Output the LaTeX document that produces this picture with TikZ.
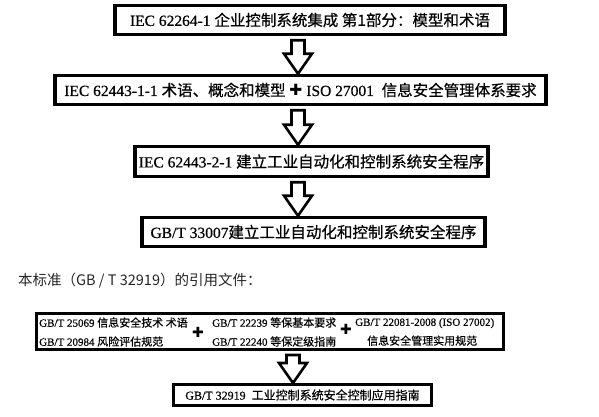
\documentclass[tikz,border=0pt]{standalone}
\usepackage{fontspec}
\setmainfont{Liberation Serif}[FakeBold=0.5]
\newfontfamily\cjk{Noto Sans CJK SC}[FakeBold=0.5]
\newfontfamily\plaincjk{Noto Sans CJK SC}
\newfontfamily\sym{DejaVu Sans}
\usetikzlibrary{calc}
\tikzset{
   stdbox/.style={draw,line width=3.5pt,inner sep=0pt,align=center,font=\fontsize{15.5}{17}\selectfont},
   blockarr/.style={draw,line width=2.6pt,line join=miter,fill=white},
   colt/.style={anchor=west,align=left,inner sep=0pt,font=\fontsize{11}{19}\selectfont},
}
\newcommand\zh[1]{{\cjk #1}}
\newcommand\plus{{\sym\bfseries ✚}}
% flecha hueca: x, de, a
\newcommand\hollowarrow[3]{%
   \draw[blockarr] let \p1=(#1,0 |- #2.south), \p2=(#1,0 |- #3.north) in
      (\x1-6.5pt,\y1-4pt) -- (\x1+6.5pt,\y1-4pt) -- (\x1+6.5pt,\y2+20pt) -- (\x1+14pt,\y2+20pt)
      -- (\x2,\y2) -- (\x1-14pt,\y2+20pt) -- (\x1-6.5pt,\y2+20pt) -- cycle;}
\begin{document}
\begin{tikzpicture}[x=1pt,y=-1pt]
   \useasboundingbox (0,0) rectangle (599,417);
   %cajas
   \node[stdbox,minimum width=390pt,minimum height=29pt] (iec1) at (310,20)
      {IEC 62264-1 \zh{企业控制系统集成 第1部分：模型和术语}};
   \node[stdbox,minimum width=491pt,minimum height=29pt] (iec2) at (300.5,90)
      {IEC 62443-1-1 \zh{术语、概念和模型} \plus\ ISO 27001\ \ \zh{信息安全管理体系要求}};
   \node[stdbox,minimum width=353pt,minimum height=30pt] (iec3) at (311.5,161.5)
      {IEC 62443-2-1 \zh{建立工业自动化和控制系统安全程序}};
   \node[stdbox,minimum width=343pt,minimum height=29pt] (gbt) at (313.5,232)
      {GB/T 33007\zh{建立工业自动化和控制系统安全程序}};
   %flechas
   \hollowarrow{298}{iec1}{iec2}
   \hollowarrow{298}{iec2}{iec3}
   \hollowarrow{298}{iec3}{gbt}
   %texto
   \node[anchor=west,inner sep=0pt,text=black!85,font=\plaincjk\fontsize{14.5}{16}\selectfont] (yin) at (18,281)
      {本标准（GB / T 32919）的引用文件：};
   %referencias
   \node[draw,line width=3pt,minimum width=467pt,minimum height=36pt] (cite) at (270,331.5) {};
   \node[colt] (c1) at (39,332) {GB/T 25069 \zh{信息安全技术 术语}\\GB/T 20984 \zh{风险评估规范}};
   \node[inner sep=0pt,font=\fontsize{14}{16}\selectfont] (p1) at (198,332) {\plus};
   \node[colt] (c2) at (212,332) {GB/T 22239 \zh{等保基本要求}\\GB/T 22240 \zh{等保定级指南}};
   \node[inner sep=0pt,font=\fontsize{14}{16}\selectfont] (p2) at (346,329) {\plus};
   \node[colt] (c3) at (355,332)
      {GB/T 22081-2008 (ISO 27002)\\\hspace{12pt}\zh{信息安全管理实用规范}};
   \node[stdbox,line width=3pt,minimum width=258pt,minimum height=21pt,font=\fontsize{12}{14}\selectfont] (guide) at (302.5,395)
      {GB/T 32919\ \ \zh{工业控制系统安全控制应用指南}};
   \hollowarrow{293}{cite}{guide}
\end{tikzpicture}
\end{document}
